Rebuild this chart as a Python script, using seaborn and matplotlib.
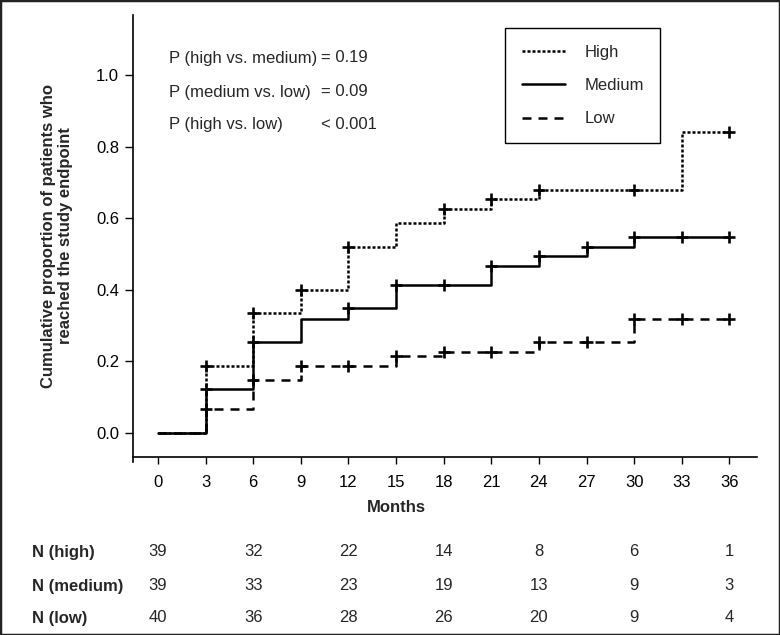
import numpy as np
import pandas as pd
import matplotlib
matplotlib.use("Agg")
import matplotlib.pyplot as plt
import matplotlib.transforms as mtransforms
from matplotlib.patches import Rectangle
import seaborn as sns

# step curves (time of change, cumulative proportion after change)
groups = ["High", "Medium", "Low"]
high_t = [0, 3, 6, 9, 12, 15, 18, 21, 24, 33, 36]
high_p = [0.0, 0.187, 0.335, 0.40, 0.52, 0.586, 0.626, 0.654, 0.679, 0.84, 0.84]
medium_t = [0, 3, 6, 9, 12, 15, 21, 24, 27, 30, 36]
medium_p = [0.0, 0.123, 0.254, 0.318, 0.349, 0.413, 0.466, 0.494, 0.52, 0.547, 0.547]
low_t = [0, 3, 6, 9, 15, 18, 24, 30, 36]
low_p = [0.0, 0.067, 0.148, 0.187, 0.215, 0.226, 0.254, 0.318, 0.318]

# censor marks (+)
high_cens = [3, 6, 9, 12, 18, 21, 24, 30, 36]
medium_cens = [3, 6, 12, 15, 18, 21, 24, 27, 30, 33, 36]
low_cens = [3, 6, 9, 12, 15, 18, 21, 24, 27, 30, 33, 36]

# numbers at risk
risk_months = [0, 6, 12, 18, 24, 30, 36]
risk_labels = ["N (high)", "N (medium)", "N (low)"]
n_high = [39, 32, 22, 14, 8, 6, 1]
n_medium = [39, 33, 23, 19, 13, 9, 3]
n_low = [40, 36, 28, 26, 20, 9, 4]

p_left = ["P (high vs. medium)", "P (medium vs. low)", "P (high vs. low)"]
p_right = ["= 0.19", "= 0.09", "< 0.001"]

x_ticks = list(range(0, 37, 3))
y_ticks = [0.0, 0.2, 0.4, 0.6, 0.8, 1.0]


def step_value(times, values, t):
    i = np.searchsorted(times, t, side="right") - 1
    return values[i]


curves = {"High": (high_t, high_p, high_cens),
          "Medium": (medium_t, medium_p, medium_cens),
          "Low": (low_t, low_p, low_cens)}

line_rows, cens_rows = [], []
for g in groups:
    t, p, c = curves[g]
    for ti, pi in zip(t, p):
        line_rows.append({"Months": ti, "Proportion": pi, "Group": g})
    for ci in c:
        cens_rows.append({"Months": ci, "Proportion": step_value(t, p, ci), "Group": g})
line_df = pd.DataFrame(line_rows)
cens_df = pd.DataFrame(cens_rows)

sns.set_style("ticks")
plt.rcParams["font.family"] = ["Liberation Sans", "DejaVu Sans"]

W, H = 780, 635
fig = plt.figure(figsize=(W / 100, H / 100), dpi=100)
ax = fig.add_axes([133 / W, (H - 457) / H, 624 / W, 442 / H])

palette = {g: "black" for g in groups}
dashes = {"High": (1.2, 0.8), "Medium": "", "Low": (3.6, 2.8)}
sns.lineplot(data=line_df, x="Months", y="Proportion", hue="Group", style="Group",
             hue_order=groups, style_order=groups, palette=palette, dashes=dashes,
             drawstyle="steps-post", linewidth=1.8, errorbar=None, sort=False,
             estimator=None, ax=ax)
sns.scatterplot(data=cens_df, x="Months", y="Proportion", marker="+", color="black",
                s=80, linewidth=1.9, legend=False, zorder=3, ax=ax)

ax.set_xlim(-1.575, 37.74)
ax.set_ylim(-0.067, 1.168)
ax.set_xticks(x_ticks)
ax.set_yticks(y_ticks)
ax.set_yticklabels([f"{v:.1f}" for v in y_ticks])
ax.set_xlabel("")
ax.set_ylabel("")
sns.despine(ax=ax)
for s in ["left", "bottom"]:
    ax.spines[s].set_linewidth(1.2)
    ax.spines[s].set_color("black")
ax.spines["left"].set_bounds(-0.082, 1.168)
ax.tick_params(axis="x", length=5, width=1, pad=8, labelsize=12, colors="black")
ax.tick_params(axis="y", length=6, width=1, pad=4, labelsize=12, colors="black")

handles, labels = ax.get_legend_handles_labels()
leg = ax.legend(handles=handles, labels=labels, loc="upper left",
                bbox_to_anchor=(505 / W, 1 - 28 / H), bbox_transform=fig.transFigure,
                borderaxespad=0, fontsize=12, handlelength=2.6, handletextpad=1.15,
                labelspacing=1.1, borderpad=1.0, fancybox=False, framealpha=1)
leg.get_frame().set_edgecolor("black")
leg.get_frame().set_linewidth(1.0)

# p-values
for i, (l, r) in enumerate(zip(p_left, p_right)):
    y = 1 - [58, 92, 124][i] / H
    fig.text(169 / W, y, l, fontsize=12, va="center", ha="left")
    fig.text(321 / W, y, r, fontsize=12, va="center", ha="left")

fig.text(57 / W, 1 - 236 / H,
         "Cumulative proportion of patients who\nreached the study endpoint",
         rotation=90, ha="center", va="center", fontsize=12, fontweight="bold",
         multialignment="center")
fig.text(396 / W, 1 - 508 / H, "Months", ha="center", va="center",
         fontsize=12, fontweight="bold")

# numbers at risk table
trans = mtransforms.blended_transform_factory(ax.transData, fig.transFigure)
for row_y, lab, counts in zip([552, 586, 618], risk_labels, [n_high, n_medium, n_low]):
    fy = 1 - row_y / H
    fig.text(32 / W, fy, lab, fontsize=12, fontweight="bold", va="center", ha="left")
    for m, n in zip(risk_months, counts):
        ax.text(m, fy, str(n), transform=trans, fontsize=12, va="center", ha="center",
                clip_on=False)

fig.patches.append(Rectangle((0, 0), 1, 1, transform=fig.transFigure, fill=False,
                             edgecolor="#222222", linewidth=2.5))

fig.savefig("out.png", dpi=100)
